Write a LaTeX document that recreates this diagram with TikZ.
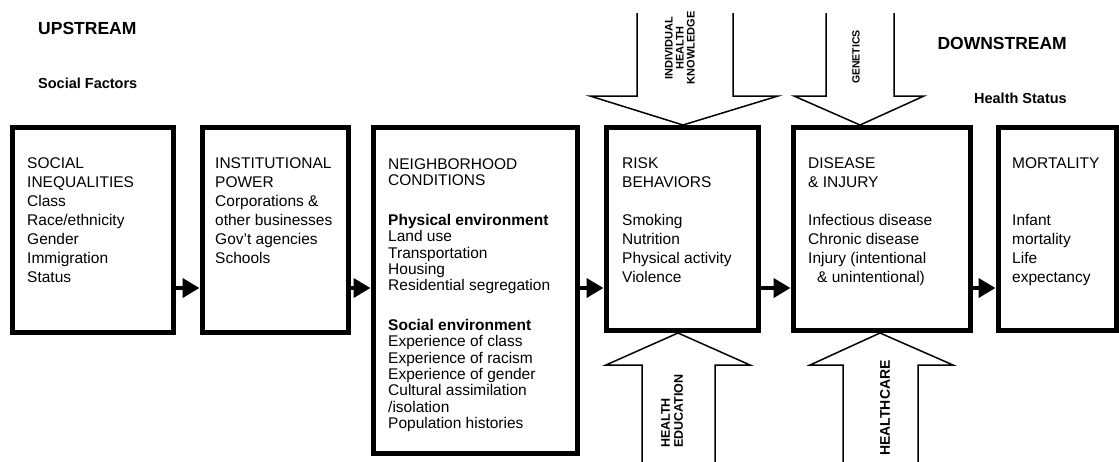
\documentclass[tikz,border=0pt]{standalone}
\usepackage{fontspec}
\setmainfont{Liberation Sans}
\usetikzlibrary{arrows.meta,calc}
\begin{document}
\begin{tikzpicture}[x=1pt,y=-1pt,
  box/.style={draw,line width=5pt,rectangle,inner sep=0pt,outer sep=0pt},
  body/.style={anchor=north west,inner sep=0pt,align=left,font=\fontsize{15.5}{19}\selectfont},
  bodyn/.style={anchor=north west,inner sep=0pt,align=left,font=\fontsize{15.5}{16.3}\selectfont},
  conn/.style={line width=4pt,shorten >=2.5pt,-{Triangle[length=17pt,width=19pt]}},
  big/.style={line width=1.5pt,line join=miter},
  vlab/.style={rotate=90,inner sep=0pt},
  headlab/.style={inner sep=0pt,font=\bfseries\fontsize{17.5}{20}\selectfont},
  sublab/.style={inner sep=0pt,font=\bfseries\fontsize{14.5}{17}\selectfont}]
\useasboundingbox (0,0) rectangle (1119,461);

% headings
\node[headlab,anchor=west] (up) at (38,28) {UPSTREAM};
\node[sublab,anchor=west] (sf) at (38,83) {Social Factors};
\node[headlab,anchor=east] (down) at (1067,43) {DOWNSTREAM};
\node[sublab,anchor=east] (hs) at (1067,98) {Health Status};

% boxes
\node[box,minimum width=161pt,minimum height=205pt] (b1) at (92.5,229.5) {};
\node[box,minimum width=146pt,minimum height=205pt] (b2) at (275,229.5) {};
\node[box,minimum width=204pt,minimum height=326pt] (b3) at (475,290) {};
\node[box,minimum width=152pt,minimum height=203pt] (b4) at (682,228.5) {};
\node[box,minimum width=177pt,minimum height=203pt] (b5) at (881.5,228.5) {};
\node[box,minimum width=118pt,minimum height=203pt] (b6) at (1057,228.5) {};

% box texts
\node[body] (t1) at (27,157.5) {SOCIAL\\INEQUALITIES\\Class\\Race/ethnicity\\Gender\\Immigration\\Status};
\node[body] (t2) at (215,157.5) {INSTITUTIONAL\\POWER\\Corporations \&\\other businesses\\Gov't agencies\\Schools};
\node[bodyn] (t3) at (388,158.5) {NEIGHBORHOOD\\CONDITIONS\\[23.5pt]\textbf{Physical environment}\\Land use\\Transportation\\Housing\\Residential segregation\\[23.5pt]\textbf{Social environment}\\Experience of class\\Experience of racism\\Experience of gender\\Cultural assimilation\\/isolation\\Population histories};
\node[body] (t4) at (622,157.5) {RISK\\BEHAVIORS\\[19pt]Smoking\\Nutrition\\Physical activity\\Violence};
\node[body] (t5) at (808,157.5) {DISEASE\\\& INJURY\\[19pt]Infectious disease\\Chronic disease\\Injury (intentional\\\hspace*{9pt}\& unintentional)};
\node[body] (t6) at (1012,157.5) {MORTALITY\\[38pt]Infant\\mortality\\Life\\expectancy};

% connectors between boxes
\coordinate (ay) at (0,288);
\draw[conn] (b1.east |- ay) -- (b2.west |- ay);
\draw[conn] (b2.east |- ay) -- (b3.west |- ay);
\draw[conn] (b3.east |- ay) -- (b4.west |- ay);
\draw[conn] (b4.east |- ay) -- (b5.west |- ay);
\draw[conn] (b5.east |- ay) -- (b6.west |- ay);

% big block arrows (top)
\draw[big] (637,13) -- (637,96) -- (590,96) -- (683,125) -- (778,96) -- (733,96) -- (733,13);
\draw[big] (826,13) -- (826,96) -- (794,96) -- (860,125) -- (924,96) -- (894,96) -- (894,13);
% big block arrows (bottom)
\draw[big] (642,470) -- (642,365) -- (606,365) -- (678,333) -- (750,365) -- (715,365) -- (715,470);
\draw[big] (843,470) -- (843,365) -- (810,365) -- (880,333) -- (953,365) -- (918,365) -- (918,470);

% arrow labels
\node[vlab,align=center,font=\bfseries\fontsize{11}{11}\selectfont] (ihk) at (680,48) {INDIVIDUAL\\HEALTH\\KNOWLEDGE};
\node[vlab,font=\bfseries\fontsize{10.5}{11}\selectfont] (gen) at (856,57) {GENETICS};
\node[vlab,anchor=north west,align=left,font=\bfseries\fontsize{12.5}{13}\selectfont] (he) at (661,448) {HEALTH\\EDUCATION};
\node[vlab,font=\bfseries\fontsize{14}{15}\selectfont] (hc) at (885,408) {HEALTHCARE};
\end{tikzpicture}
\end{document}
